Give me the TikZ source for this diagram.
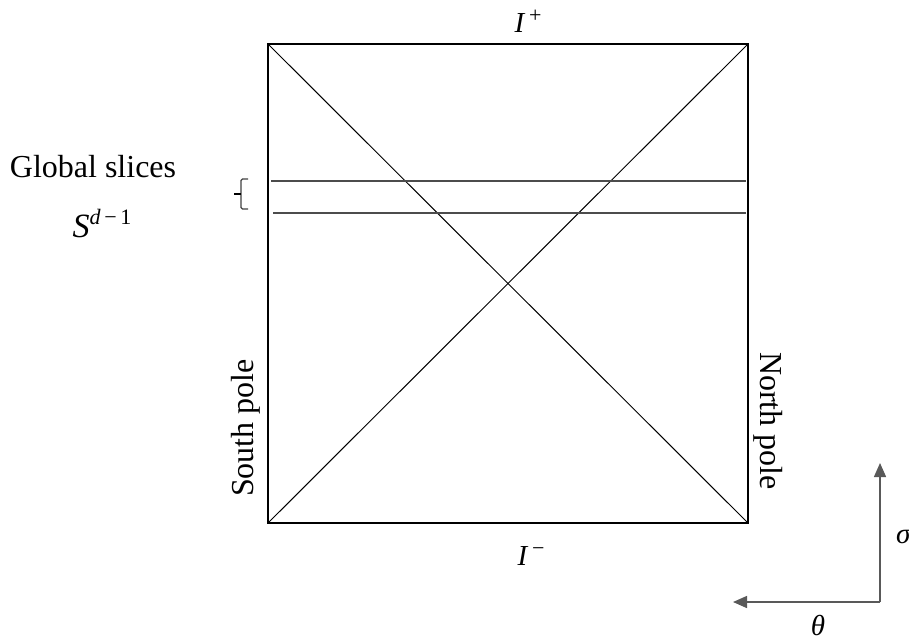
\documentclass[tikz,border=0pt]{standalone}
\usepackage{fontspec}
\setmainfont{Liberation Serif}
\usetikzlibrary{arrows.meta}
\newcommand{\bigsup}[2]{\raisebox{#1}{\fontsize{22}{22}\selectfont #2}}
\begin{document}
\begin{tikzpicture}[x=1pt,y=-1pt,
  txt/.style={font=\fontsize{32}{36}\selectfont, inner sep=0pt},
  mth/.style={font=\fontsize{29}{34}\selectfont\itshape, inner sep=0pt},
  frame/.style={line width=2.4pt, black},
  diag/.style={line width=1pt, black},
  slice/.style={line width=1.3pt, black!70},
  axis/.style={line width=1.5pt, black!65, -{Triangle[length=14pt,width=12pt]}}]
\useasboundingbox (0,0) rectangle (909,641);
% square
\coordinate (tl) at (268,44);
\coordinate (tr) at (748,44);
\coordinate (br) at (748,523);
\coordinate (bl) at (268,523);
\draw[frame] (tl) -- (tr) -- (br) -- (bl) -- cycle;
\draw[diag] (tl) -- (br);
\draw[diag] (bl) -- (tr);
% slices
\coordinate (s1a) at (271,181);
\coordinate (s1b) at (746,181);
\coordinate (s2a) at (273,213);
\coordinate (s2b) at (746,213);
\draw[slice] (s1a) -- (s1b);
\draw[slice] (s2a) -- (s2b);
% brace
\coordinate (bra) at (248,179);
\coordinate (brb) at (248,209);
\draw[line width=1.2pt, black!75, rounded corners=1.5pt] (bra) -- (241,179) -- (241,209) -- (brb);
\draw[line width=1.8pt, black] (234,194) -- (241,194);
% labels
\node[mth, anchor=base] (ip) at (528,32) {I\,\bigsup{10pt}{\upshape +}};
\node[mth, anchor=base] (im) at (531,565) {I\,\bigsup{10pt}{\upshape −}};
\node[txt, anchor=base] (gs) at (93,177) {Global slices};
\node[mth, anchor=base, font=\fontsize{34}{38}\selectfont\itshape] (sd) at (102,237) {S\bigsup{13pt}{d\,\upshape−\,1}};
\node[txt, anchor=base, rotate=90] (sp) at (253,428) {South pole};
\node[txt, anchor=base, rotate=-90] (np) at (760,421) {North pole};
% axes
\coordinate (o) at (880,602);
\coordinate (up) at (880,463);
\coordinate (lf) at (733,602);
\draw[axis] (o) -- (up);
\draw[axis] (o) -- (lf);
\node[mth, anchor=base west] (sg) at (896,543) {σ};
\node[mth, anchor=base] (th) at (818,635) {θ};
\end{tikzpicture}
\end{document}
